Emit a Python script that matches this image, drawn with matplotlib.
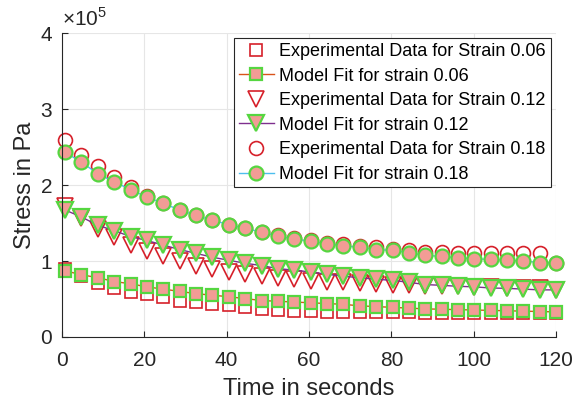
import numpy as np
import matplotlib
matplotlib.use("Agg")
import matplotlib.pyplot as plt

# tempo em segundos
t = [0.8, 4.7, 8.7, 12.7, 16.7, 20.6, 24.6, 28.6, 32.6, 36.5, 40.5, 44.5, 48.5, 52.4,
     56.4, 60.4, 64.4, 68.3, 72.3, 76.3, 80.3, 84.2, 88.2, 92.2, 96.2, 100.1, 104.1,
     108.1, 112.1, 116.0, 120.0]

# tensoes em unidades de 1e5 Pa
exp_06 = [0.90, 0.80, 0.71, 0.64, 0.59, 0.56, 0.52, 0.48, 0.46, 0.44, 0.42, 0.395, 0.37,
          0.355, 0.345, 0.34, 0.335, 0.33, 0.33, 0.33, 0.325, 0.325, 0.32, 0.32, 0.32,
          0.32, 0.32, 0.32, 0.32, 0.32, 0.32]
fit_06 = [0.87, 0.82, 0.78, 0.73, 0.70, 0.66, 0.63, 0.60, 0.57, 0.55, 0.53, 0.505, 0.48,
          0.47, 0.46, 0.45, 0.44, 0.43, 0.41, 0.40, 0.39, 0.38, 0.37, 0.365, 0.36, 0.355,
          0.35, 0.345, 0.34, 0.335, 0.33]
exp_12 = [1.73, 1.57, 1.42, 1.31, 1.21, 1.13, 1.06, 1.00, 0.94, 0.90, 0.86, 0.83, 0.80,
          0.78, 0.76, 0.74, 0.73, 0.72, 0.71, 0.70, 0.69, 0.68, 0.675, 0.67, 0.665, 0.66,
          0.655, 0.65, 0.645, 0.64, 0.62]
fit_12 = [1.67, 1.58, 1.47, 1.40, 1.32, 1.27, 1.21, 1.15, 1.10, 1.05, 1.01, 0.97, 0.94,
          0.90, 0.88, 0.855, 0.825, 0.80, 0.78, 0.76, 0.745, 0.72, 0.69, 0.68, 0.667,
          0.66, 0.645, 0.64, 0.63, 0.62, 0.62]
exp_18 = [2.59, 2.40, 2.25, 2.10, 1.98, 1.85, 1.76, 1.67, 1.60, 1.535, 1.48, 1.43, 1.38,
          1.34, 1.30, 1.27, 1.24, 1.22, 1.20, 1.18, 1.16, 1.15, 1.12, 1.115, 1.11, 1.11,
          1.10, 1.10, 1.10, 1.10, 0.98]
fit_18 = [2.43, 2.30, 2.15, 2.04, 1.94, 1.84, 1.76, 1.67, 1.60, 1.535, 1.48, 1.43, 1.38,
          1.33, 1.29, 1.26, 1.23, 1.20, 1.18, 1.15, 1.14, 1.11, 1.075, 1.06, 1.045, 1.03,
          1.02, 1.01, 1.00, 0.98, 0.975]

plt.rcParams['font.family'] = ['Liberation Sans', 'DejaVu Sans']
plt.rcParams['mathtext.fontset'] = 'custom'
plt.rcParams['mathtext.rm'] = 'Liberation Sans'

vermelho = '#d6202a'
verde = '#55d640'
rosa = '#f29c95'
escala = 1e5

fig = plt.figure(figsize=(5.82, 4.03), dpi=100)
ax = fig.add_axes([0.1065, 0.1638, 0.8488, 0.7542])

ax.plot(t, np.array(exp_06) * escala, 's', ms=9, mfc='none', mec=vermelho, mew=1.2,
        label='Experimental Data for Strain 0.06', clip_on=False)
ax.plot(t, np.array(fit_06) * escala, '-s', color='#d9531a', lw=1, ms=8, mfc=rosa,
        mec=verde, mew=1.6, label='Model Fit for strain 0.06', clip_on=False)
ax.plot(t, np.array(exp_12) * escala, 'v', ms=11, mfc='none', mec=vermelho, mew=1.2,
        label='Experimental Data for Strain 0.12', clip_on=False)
ax.plot(t, np.array(fit_12) * escala, '-v', color='#7e2f8e', lw=1, ms=11, mfc=rosa,
        mec=verde, mew=1.6, label='Model Fit for strain 0.12', clip_on=False)
ax.plot(t, np.array(exp_18) * escala, 'o', ms=10, mfc='none', mec=vermelho, mew=1.2,
        label='Experimental Data for Strain 0.18', clip_on=False)
ax.plot(t, np.array(fit_18) * escala, '-o', color='#4dbeee', lw=1, ms=10, mfc=rosa,
        mec=verde, mew=1.6, label='Model Fit for strain 0.18', clip_on=False)

ax.set_xlim(0, 120)
ax.set_ylim(0, 4e5)
ax.set_xticks(np.arange(0, 121, 20))
ax.set_yticks(np.arange(0, 4.1e5, 1e5))
ax.set_yticklabels(['0', '1', '2', '3', '4'])
ax.grid(True, color='#e6e6e6', lw=0.8)
ax.set_axisbelow(True)
for lado in ['top', 'right']:
    ax.spines[lado].set_visible(False)
for lado in ['left', 'bottom']:
    ax.spines[lado].set_color('#262626')
ax.tick_params(direction='in', length=4, labelsize=15, colors='#262626')
ax.tick_params(axis='x', pad=10)
ax.tick_params(axis='y', pad=7)

ax.set_xlabel('Time in seconds', fontsize=17, color='#262626', labelpad=6)
ax.set_ylabel('Stress in Pa', fontsize=17, color='#262626', labelpad=3)
ax.text(0.0, 1.012, r'$\times10^{5}$', transform=ax.transAxes, fontsize=15,
        color='#262626', ha='left', va='bottom')

leg = ax.legend(loc='upper right', fontsize=13, frameon=True, fancybox=False,
                edgecolor='#262626', framealpha=1, borderaxespad=0.3,
                handlelength=1.95, labelspacing=0.42, handletextpad=0.3, borderpad=0.25)
leg.get_frame().set_linewidth(0.8)

fig.savefig('out.png', dpi=100)
